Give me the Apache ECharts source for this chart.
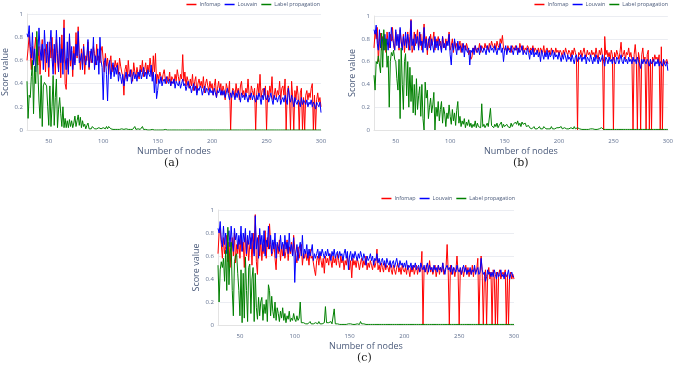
<!DOCTYPE html>
<html><head><meta charset="utf-8">
<script src="https://cdn.jsdelivr.net/npm/echarts@6/dist/echarts.min.js"></script>
<style>html,body{margin:0;padding:0;background:#fff}#c{width:676px;height:368px}</style>
</head><body><div id="c"></div>
<script>
// Node counts: consecutive integers from 30 to 300
const nodeStart = 30, nodeEnd = 300;
const seriesNames = ['Infomap', 'Louvain', 'Label propagation'];
const xTicks = [50, 100, 150, 200, 250, 300];
const yTicks = [0, 0.2, 0.4, 0.6, 0.8, 1];
const panelLabels = ['(a)', '(b)', '(c)'];

// Score values in percent (one value per node count, 30..300)
const infomapA = [
60,70,82,66,52,72,58,70,80,62, 56,72,48,66,78,60,70,50,74,64, 46,76,62,80,55,70,48,78,60,52, 74,45,82,58,95,40,35,62,50,80,
55,68,46,72,58,84,62,89,66,52, 70,56,74,48,64,60,76,52,68,58, 62,72,66,56,74,60,64,58,68,72, 60,50,66,55,62,48,58,64,50,56,
52,60,54,58,48,62,55,50,46,30, 52,56,44,60,48,46,52,42,58,50, 46,54,48,44,56,50,60,46,52,58, 48,56,50,62,54,46,64,50,66,40,
48,44,50,46,42,48,52,44,40,46, 42,50,38,46,44,40,48,42,52,46, 40,48,44,65,42,50,38,46,42,36, 44,38,48,34,42,46,32,40,44,38,
42,36,46,32,40,44,38,34,42,36, 40,30,38,44,28,36,42,34,40,30, 38,34,26,40,36,32,42,0,30,36, 34,28,40,32,36,26,38,42,30,34,
28,36,32,44,30,26,38,34,30,36, 0,32,40,30,48,28,34,36,30,38, 0,34,28,38,32,46,26,30,36,28, 34,30,42,26,36,38,30,44,0,32,
38,30,0,42,28,0,34,26,38,30, 0,32,36,0,28,0,30,34,26,32, 28,36,40,0,30,0,26,32,24,28, 20];
const louvainA = [
83,80,90,72,62,84,56,70,50,78, 64,88,70,60,74,52,86,68,58,76, 54,72,86,62,48,74,58,86,66,50, 80,58,70,48,88,62,52,76,48,83,
60,72,52,66,56,74,64,85,58,60, 66,52,72,60,56,64,78,54,62,70, 58,80,52,64,56,70,48,80,60,54, 26,58,62,48,25,56,60,44,52,58,
46,54,48,56,42,50,46,40,48,38, 44,50,42,48,46,52,40,46,50,44, 48,42,50,46,52,44,48,54,46,50, 44,52,48,46,56,42,50,32,48,27,
34,44,40,46,38,42,44,40,46,42, 40,44,38,42,40,44,36,42,40,38, 42,36,40,44,38,40,34,38,42,36, 38,32,36,40,34,38,30,36,34,38,
36,30,34,38,32,36,34,30,36,32, 34,30,36,32,28,34,32,36,30,34, 30,34,28,32,36,30,26,32,28,34, 30,26,32,28,34,30,24,32,28,30,
26,32,28,24,30,28,32,26,30,28, 24,30,26,32,28,22,30,26,36,28, 26,30,24,28,32,26,22,30,26,28, 24,28,30,22,26,28,24,30,26,22,
36,28,24,30,26,20,28,24,22,26, 24,20,28,22,26,24,22,26,20,24, 22,26,20,24,22,18,24,22,20,24, 15];
const labelPropA = [
42,10,30,28,46,60,14,55,40,85, 50,25,10,47,3,38,41,42,38,20, 4,38,3,20,47,4,28,44,2,18, 28,14,3,20,2,10,2,8,2,9,
3,8,2,6,12,3,8,13,4,11, 2,8,3,5,1,4,6,1,2,1, 3,4,1,2,1,1,2,1,1,1, 2,1,1,3,1,3,2,1,1,0.5,
1,0.5,1,0.5,1,0.5,0.5,1,0.5,0.5, 0.5,1,0.5,0.5,1,0.5,0.5,0.5,1,3, 0.5,0.5,1,0.5,0.5,0.5,3,0.5,0.5,0.5, 0.5,0,0.5,0,0,0.5,0,0,0.5,0,
0,0,0.5,0,0,0,0,0.5,0,0, 0,0,0,0,0.5,0,0,0,0,0, 0,0,0,0,0,0,0,0,0,0, 0,0,0,0,0,0,0,0,0,0,
0,0,0,0,0,0,0,0,0,0, 0,0,0,0,0,0,0,0,0,0, 0,0,0,0,0,0,0,0,0,0, 0,0,0,0,0,0,0,0,0,0,
0,0,0,0,0,0,0,0,0,0, 0,0,0,0,0,0,0,0,0,0, 0,0,0,0,0,0,0,0,0,0, 0,0,0,0,0,0,0,0,0,0,
0,0,0,0,0,0,0,0,0,0, 0,0,0,0,0,0,0,0,0,0, 0,0,0,0,0,0,0,0,0,0, 0];

const infomapB = [
72,86,80,90,60,78,85,70,82,74, 80,68,86,76,72,84,78,90,74,70, 86,78,82,70,88,76,72,84,68,80, 76,86,70,82,97,68,72,86,74,80,
88,72,78,84,70,80,93,76,82,66, 80,72,84,74,78,86,70,80,76,82, 74,78,70,82,76,72,80,74,78,86, 70,74,80,68,78,72,76,70,74,78,
68,76,72,74,70,76,72,66,70,62, 64,72,70,74,68,72,70,76,68,74, 72,70,76,72,74,70,76,72,78,74, 72,76,70,78,74,72,80,76,83,72,
70,72,68,74,70,72,68,74,72,70, 74,70,72,68,76,72,70,74,68,72, 70,74,72,68,72,70,74,68,72,70, 68,72,66,72,70,68,74,66,70,72,
68,70,66,72,68,70,66,72,68,70, 66,70,68,64,70,66,72,68,66,70, 68,64,70,66,72,68,64,0,68,66, 70,64,68,72,66,64,70,66,68,64,
70,66,68,64,72,66,62,70,66,72, 64,0,82,66,70,64,68,62,70,66, 0,68,64,70,66,62,68,77,64,66, 70,62,68,66,72,64,68,62,0,66,
75,64,0,68,62,0,66,72,60,64, 0,66,70,0,62,0,64,60,66,62, 64,60,66,0,73,0,62,58,60,62, 58];
const louvainB = [
88,84,92,76,70,88,72,82,78,70, 84,74,80,70,86,72,90,80,76,70, 88,74,84,72,90,78,70,82,74,86, 72,84,76,70,96,74,80,70,84,76,
82,70,86,74,78,68,90,72,80,70, 76,82,70,80,74,68,82,72,78,70, 80,74,68,82,72,76,70,78,74,84, 66,57,76,70,80,72,66,78,70,74,
72,68,76,64,74,70,68,72,57,70, 68,72,66,74,70,68,72,66,74,70, 68,72,70,66,74,70,68,74,70,72, 68,74,70,66,72,70,76,68,72,60,
70,74,66,72,70,68,74,70,66,72, 70,74,66,72,68,70,74,66,70,68, 66,72,68,62,70,66,72,64,68,66, 70,64,68,60,70,66,62,68,64,70,
62,68,64,66,70,62,68,64,66,62, 68,64,60,66,62,68,64,60,66,62, 64,60,66,62,58,64,66,60,64,62, 66,60,64,62,66,58,64,62,60,66,
62,58,64,60,66,62,58,64,60,62, 66,60,56,64,62,58,64,60,62,58, 64,60,58,64,62,58,62,66,60,58, 64,60,62,58,64,60,62,58,64,60,
62,58,64,60,58,54,62,58,62,60, 58,62,60,56,62,58,60,62,56,60, 58,62,56,60,58,56,62,58,56,60, 52];
const labelPropB = [
48,35,60,58,65,66,50,85,55,88, 70,80,55,65,20,60,68,65,70,62, 60,45,35,62,10,72,40,18,60,67, 30,60,20,55,25,48,15,40,13,45,
18,30,38,12,40,10,0,42,28,35, 10,20,28,15,22,33,0,20,12,25, 8,18,25,6,20,14,3,15,10,22, 12,5,18,8,15,4,17,25,6,12,
3,8,5,10,2,7,4,9,3,6, 2,5,3,8,2,6,3,4,2,23, 3,5,2,4,6,3,2,19,4,3, 2,5,3,6,2,4,3,7,2,5,
3,2,5,3,4,2,6,3,5,4, 7,5,8,4,6,3,7,5,4,6, 3,2,4,2,3,1,2,3,1,2, 1,2,3,1,2,1,3,2,1,2,
1,2,1,3,1,2,1,1,2,1, 2,1,3,1,1,2,1,1,2,1, 1,2,1,1,3,1,1,2,1,1, 1,0.5,1,0.5,1,0.5,1,0.5,0.5,1,
0.5,1,0.5,0.5,1,0.5,0.5,1,0.5,2, 0.5,0.5,0.5,0.5,0.5,0.5,0.5,0.5,0.5,0.5, 0.5,0.5,0.5,0.5,0.5,0.5,0.5,0.5,0.5,0.5, 0.5,0.5,0.5,0.5,0.5,0.5,0.5,0.5,0.5,0.5,
0.5,0.5,0.5,0.5,0.5,0.5,0.5,0.5,0.5,0.5, 0.5,0.5,0.5,0.5,0.5,0.5,0.5,0.5,0.5,0.5, 0.5,0.5,0.5,0.5,0.5,0.5,0.5,0.5,0.5,0.5, 0.5];

const infomapC = [
62,80,84,70,58,76,62,68,78,55, 72,50,66,76,60,80,54,70,62,74, 58,78,64,72,50,80,60,74,56,70, 76,52,80,62,96,55,44,78,60,74,
56,70,62,82,58,76,66,88,70,60, 64,72,58,48,70,62,74,56,68,60, 70,58,64,74,56,68,62,72,60,78, 66,60,54,68,58,64,70,52,62,58,
64,56,62,52,66,58,60,54,48,43, 56,60,52,62,56,50,58,45,60,54, 58,52,62,56,50,60,54,58,52,62, 56,50,60,54,58,48,56,52,60,54,
48,56,41,58,52,56,50,58,54,48, 54,58,50,56,52,60,48,54,50,56, 52,48,56,50,54,66,48,52,46,54, 50,46,54,48,52,50,46,54,48,44,
52,48,44,50,54,46,50,44,52,48, 46,50,44,52,48,42,50,46,52,44, 48,52,44,50,46,48,64,0,50,46, 52,44,48,56,46,50,44,48,52,42,
48,52,44,50,46,54,44,48,50,70, 46,0,52,44,48,50,42,48,60,46, 0,48,44,50,42,48,52,44,50,42, 48,44,52,42,50,46,48,58,0,44,
60,46,0,42,48,0,44,50,40,46, 0,48,42,0,46,0,44,48,40,44, 46,42,48,0,44,0,42,46,40,44, 40];
const louvainC = [
84,80,90,74,68,86,70,80,62,76, 82,68,86,72,64,84,74,80,66,78, 70,86,64,80,72,84,62,78,70,82, 66,80,72,60,95,66,76,58,84,70,
78,64,82,60,74,68,86,66,78,62, 74,66,80,58,72,68,64,78,66,72, 60,78,66,72,62,80,64,70,60,76, 37,62,70,56,66,72,60,78,58,66,
62,70,58,66,60,64,70,56,62,58, 62,66,58,64,60,66,62,58,64,60, 66,60,62,56,64,60,66,58,62,64, 58,64,60,62,56,62,66,58,64,48,
60,64,56,62,58,64,60,56,62,58, 64,60,56,62,58,52,60,56,58,62, 56,60,52,58,56,62,54,58,52,56, 58,52,56,50,58,54,52,56,50,54,
56,50,54,58,52,50,56,52,54,50, 54,50,56,48,52,50,54,48,52,50, 54,48,50,52,46,54,50,48,52,46, 50,54,46,52,48,50,46,52,48,50,
46,52,48,50,46,54,48,44,50,52, 48,50,46,52,44,50,48,46,52,48, 46,50,44,48,52,46,50,44,48,46, 50,44,48,46,52,44,48,50,44,46,
58,48,44,46,38,42,48,44,46,42, 46,42,48,44,40,46,42,44,48,42, 44,40,46,42,44,48,40,44,46,42, 42];
const labelPropC = [
52,20,48,55,50,58,38,65,30,85, 35,60,72,30,8,55,60,62,45,30, 8,48,2,45,6,59,30,3,50,53, 10,40,50,3,45,15,5,24,8,20,
24,4,18,10,22,3,35,30,8,25, 12,6,20,4,15,10,3,12,6,15, 4,10,2,8,5,12,3,6,4,10, 5,3,8,4,6,20,2,1,2,1,
1,2,1,1,3,1,2,1,1,2, 1,1,3,1,2,1,1,2,16,2, 1,2,1,3,1,2,14,1,2,1, 1,0.5,1,0.5,1,0.5,1,0.5,0.5,1,
0.5,1,0.5,0.5,1,0.5,0.5,1,0.5,0.5, 3,1,0.5,1,0.5,0.5,1,0.5,0.5,0.5, 0.5,0.5,0.5,0.5,0.5,0.5,0.5,0.5,0.5,0.5, 0.5,0.5,0.5,0.5,0.5,0.5,0.5,0.5,0.5,0.5,
0.5,0.5,0.5,0.5,0.5,0.5,0.5,0.5,0.5,0.5, 0.5,0.5,0.5,0.5,0.5,0.5,0.5,0.5,0.5,0.5, 0.5,0.5,0.5,0.5,0.5,0.5,0.5,0.5,0.5,0.5, 0.5,0.5,0.5,0.5,0.5,0.5,0.5,0.5,0.5,0.5,
0.5,0.5,0.5,0.5,0.5,0.5,0.5,0.5,0.5,0.5, 0.5,0.5,0.5,0.5,0.5,0.5,0.5,0.5,0.5,0.5, 0.5,0.5,0.5,0.5,0.5,0.5,0.5,0.5,0.5,0.5, 0.5,0.5,0.5,0.5,0.5,0.5,0.5,0.5,0.5,0.5,
0.5,0.5,0.5,0.5,0.5,0.5,0.5,0.5,0.5,0.5, 0.5,0.5,0.5,0.5,0.5,0.5,0.5,0.5,0.5,0.5, 0.5,0.5,0.5,0.5,0.5,0.5,0.5,0.5,0.5,0.5, 0.5];

const panels = [
  [infomapA, louvainA, labelPropA],
  [infomapB, louvainB, labelPropB],
  [infomapC, louvainC, labelPropC]
];
const colors = ['#ff0000', '#0000ff', '#008000'];

const gridPos = [
  {left: 26, top: 14, width: 295, height: 116},
  {left: 374, top: 16, width: 295, height: 114},
  {left: 218, top: 210, width: 296, height: 115}
];
const legendPos = [{right: 356, top: 2}, {right: 8, top: 2}, {right: 161, top: 196}];
const labelPos = [{left: 164, top: 158}, {left: 513, top: 158}, {left: 357, top: 353}];

const tickColor = '#5f6f8f', titleColor = '#4a5a7a', gridColor = '#ebedf2';

function toPairs(arr) {
  return arr.map((v, i) => [nodeStart + i, v / 100]);
}

const option = {
  animation: false,
  backgroundColor: '#fff',
  grid: gridPos.map(g => Object.assign({containLabel: false}, g)),
  xAxis: gridPos.map((g, i) => ({
    type: 'value', gridIndex: i, min: nodeStart, max: nodeEnd, offset: 5,
    axisLine: {show: true, lineStyle: {color: '#e3e3e3', width: 1}},
    axisTick: {show: false},
    splitLine: {show: false},
    axisLabel: {customValues: xTicks, fontSize: 6, color: tickColor, margin: 3, fontFamily: 'Open Sans'},
    name: 'Number of nodes', nameLocation: 'middle', nameGap: 12,
    nameTextStyle: {fontSize: 9, color: titleColor, fontFamily: 'Open Sans'}
  })),
  yAxis: gridPos.map((g, i) => ({
    type: 'value', gridIndex: i, min: 0, max: 1, interval: 0.2,
    axisLine: {show: true, lineStyle: {color: '#e3e3e3', width: 1}},
    axisTick: {show: false},
    splitLine: {show: true, lineStyle: {color: gridColor, width: 1}},
    axisLabel: {fontSize: 6, color: tickColor, margin: 4, fontFamily: 'Open Sans'},
    name: 'Score value', nameLocation: 'middle', nameGap: 17,
    nameTextStyle: {fontSize: 9, color: titleColor, fontFamily: 'Open Sans'}
  })),
  legend: legendPos.map(p => Object.assign({
    orient: 'horizontal', data: seriesNames, padding: 0, width: 200,
    icon: 'rect', itemWidth: 10, itemHeight: 1.5, itemGap: 4,
    textStyle: {fontSize: 5.4, color: titleColor, fontFamily: 'Open Sans', padding: [0, 0, 0, -2]},
    selectedMode: false
  }, p)),
  title: panelLabels.map((t, i) => ({
    text: t, left: labelPos[i].left, top: labelPos[i].top, padding: 0,
    textStyle: {fontSize: 11, fontWeight: 'normal', color: '#222', fontFamily: 'DejaVu Serif'}
  })),
  series: []
};

panels.forEach((p, gi) => {
  p.forEach((arr, si) => {
    option.series.push({
      type: 'line', name: seriesNames[si], xAxisIndex: gi, yAxisIndex: gi,
      data: toPairs(arr), showSymbol: false, symbol: 'none',
      lineStyle: {color: colors[si], width: 1}, itemStyle: {color: colors[si]},
      z: 2 + si
    });
  });
});

echarts.init(document.getElementById('c'), null, {renderer: 'canvas'}).setOption(option);
</script></body></html>
